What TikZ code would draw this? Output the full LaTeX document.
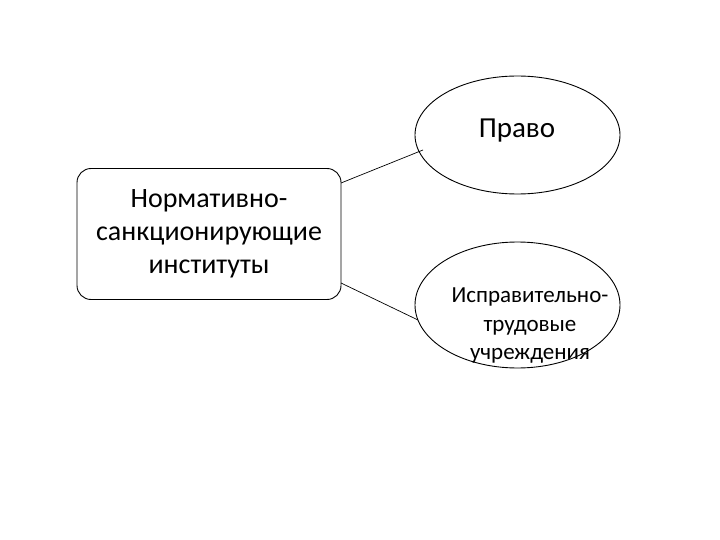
\documentclass[tikz,border=0pt]{standalone}
\usepackage{fontspec}
\setmainfont{Carlito}
\usetikzlibrary{shapes.geometric}
\begin{document}
\begin{tikzpicture}[x=1pt,y=-1pt,
  box/.style={draw,rounded corners=14pt,minimum width=264pt,minimum height=131pt,align=center,font=\fontsize{28}{33}\selectfont,line width=0.9pt},
  oval/.style={draw,ellipse,minimum width=205pt,line width=0.9pt},
  txt/.style={align=center,inner sep=0pt},
  link/.style={line width=0.7pt}]
\useasboundingbox (0,0) rectangle (720,540);
\node[box] (inst) at (209,234) {Нормативно-\\санкционирующие\\институты};
\node[oval,minimum height=118pt] (pravo) at (517.5,135) {};
\node[txt,font=\fontsize{29}{30}\selectfont] (pravot) at (517,131) {Право};
\node[oval,minimum height=126pt] (isp) at (517.5,305) {};
\node[txt,font=\fontsize{23}{28.5}\selectfont] (ispt) at (530,326) {Исправительно-\\трудовые\\учреждения};
\coordinate (a1) at (341,183);
\coordinate (b1) at (423,150);
\coordinate (a2) at (341,283);
\coordinate (b2) at (418,320);
\draw[link] (a1) -- (b1);
\draw[link] (a2) -- (b2);
\end{tikzpicture}
\end{document}
